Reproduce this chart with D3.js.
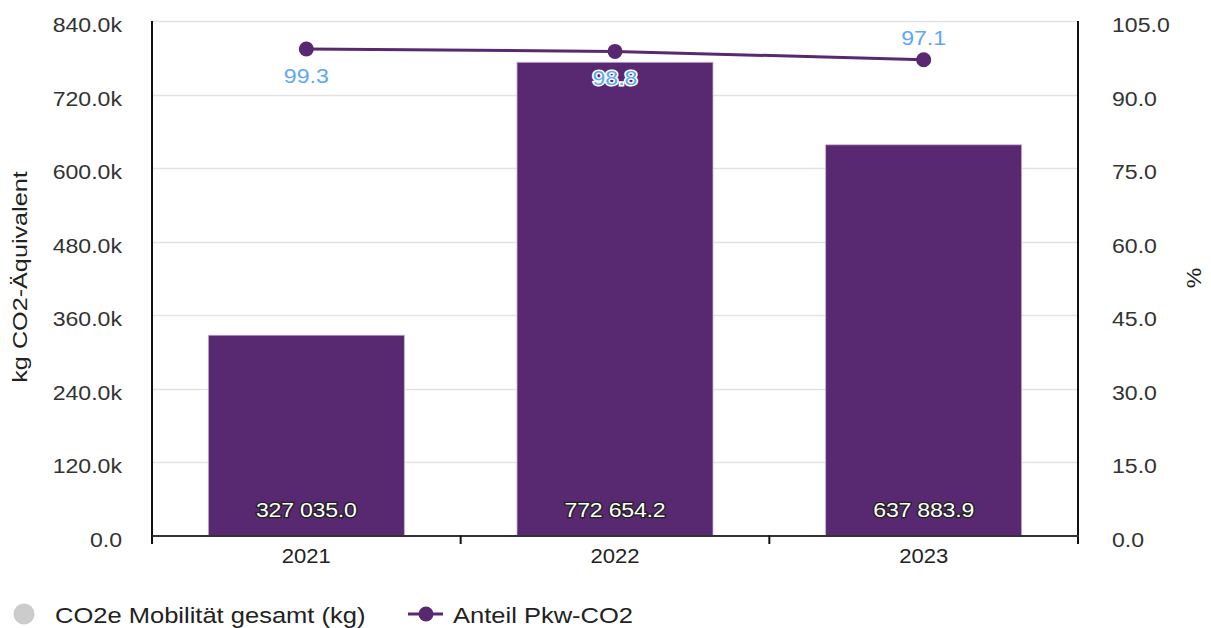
<!DOCTYPE html>
<html>
<head>
<meta charset="utf-8">
<script src="https://cdn.jsdelivr.net/npm/d3@7"></script>
<style>
  html, body { margin: 0; padding: 0; background: #fff; }
  svg { display: block; font-family: "Liberation Sans", Arial, sans-serif; }
</style>
</head>
<body>
<svg id="chart" width="1211" height="628"></svg>
<script>
// Jahre und Werte
const years = ["2021", "2022", "2023"];
const co2Total = [327035.0, 772654.2, 637883.9];   // kg CO2e Mobilität gesamt
const pkwShare = [99.3, 98.8, 97.1];               // Anteil Pkw-CO2 in %
const leftTicks = [0, 120000, 240000, 360000, 480000, 600000, 720000, 840000];
const rightTicks = [0, 15, 30, 45, 60, 75, 90, 105];
const seriesNames = ["CO2e Mobilität gesamt (kg)", "Anteil Pkw-CO2"];

const purple = "#582870";
const labelBlue = "#5aa8f8";
const FS = 21;      // Schriftgröße
const SX = 1.1;     // horizontale Laufweite der Schrift

const svg = d3.select("#chart");
const m = { left: 152, right: 1078, top: 21, bottom: 535.5 };

const x = d3.scaleBand().domain(years).range([m.left, m.right]).paddingInner(0.365).paddingOuter(0.1825);
const xBand = d3.scaleBand().domain(years).range([m.left, m.right]);
const yL = d3.scaleLinear().domain([0, 840000]).range([m.bottom, m.top]);
const yR = d3.scaleLinear().domain([0, 105]).range([m.bottom, m.top]);

const fmtK = v => v === 0 ? "0.0" : (v / 1000).toFixed(1) + "k";
const fmtBar = v => {
  const [i, d] = v.toFixed(1).split(".");
  return i.replace(/\B(?=(\d{3})+(?!\d))/g, " ") + "." + d;
};

// Text in Laufrichtung etwas breiter ziehen, Position bleibt erhalten
function widen(sel, sx = SX) {
  sel.each(function () {
    const t = d3.select(this);
    const x0 = +t.attr("x") || 0;
    t.attr("x", x0 / sx).attr("transform", `scale(${sx},1)`);
  });
}

// Gitterlinien
svg.append("g").selectAll("line").data(leftTicks.slice(1)).join("line")
  .attr("x1", m.left).attr("x2", m.right)
  .attr("y1", d => Math.round(yL(d)) + 0.5).attr("y2", d => Math.round(yL(d)) + 0.5)
  .attr("stroke", "#e3e3e3").attr("stroke-width", 1.5);

// Balken
svg.append("g").selectAll("rect").data(years).join("rect")
  .attr("x", d => x(d))
  .attr("width", x.bandwidth())
  .attr("y", (d, i) => yL(co2Total[i]))
  .attr("height", (d, i) => yL(0) - yL(co2Total[i]))
  .attr("fill", purple)
  .attr("stroke", "#c9b3d3").attr("stroke-width", 0.8);

// Balkenbeschriftung
svg.append("g").selectAll("text").data(years).join("text")
  .attr("x", d => x(d) + x.bandwidth() / 2)
  .attr("y", 517)
  .attr("text-anchor", "middle")
  .attr("font-size", FS)
  .attr("letter-spacing", -0.2)
  .attr("fill", "#fff")
  .attr("stroke", "#222").attr("stroke-width", 2.6).attr("paint-order", "stroke")
  .text((d, i) => fmtBar(co2Total[i]))
  .call(widen);

// Achsen
const axL = svg.append("g").attr("transform", `translate(${m.left},0)`)
  .call(d3.axisLeft(yL).tickValues(leftTicks).tickFormat(fmtK).tickSize(0).tickPadding(30));
axL.select(".domain").remove();
axL.selectAll("text").attr("font-size", FS).attr("fill", "#333").attr("dy", "0.52em")
  .attr("font-family", "Liberation Sans, Arial, sans-serif").call(widen);

const axR = svg.append("g").attr("transform", `translate(${m.right},0)`)
  .call(d3.axisRight(yR).tickValues(rightTicks).tickFormat(d => d.toFixed(1)).tickSize(0).tickPadding(34));
axR.select(".domain").remove();
axR.selectAll("text").attr("font-size", FS).attr("fill", "#333").attr("dy", "0.52em")
  .attr("font-family", "Liberation Sans, Arial, sans-serif").call(widen);

// Achsenlinien
svg.append("line").attr("x1", m.left).attr("x2", m.left).attr("y1", m.top).attr("y2", 544)
  .attr("stroke", "#111").attr("stroke-width", 2);
svg.append("line").attr("x1", m.right).attr("x2", m.right).attr("y1", m.top).attr("y2", 544)
  .attr("stroke", "#111").attr("stroke-width", 2);

const axB = svg.append("g").attr("transform", `translate(0,${m.bottom})`)
  .call(d3.axisBottom(xBand).tickSize(0).tickPadding(13));
axB.select(".domain").attr("stroke", "#333").attr("stroke-width", 2);
axB.selectAll("text").attr("font-size", FS).attr("fill", "#222")
  .attr("font-family", "Liberation Sans, Arial, sans-serif").call(widen, 1.05);
svg.append("g").selectAll("line").data(years.slice(1)).join("line")
  .attr("x1", d => xBand(d)).attr("x2", d => xBand(d))
  .attr("y1", m.bottom).attr("y2", 544)
  .attr("stroke", "#111").attr("stroke-width", 2);

// Achsentitel
svg.append("text").attr("transform", "translate(27,277) rotate(-90) scale(1.2,1)")
  .attr("text-anchor", "middle").attr("font-size", FS).attr("fill", "#222")
  .text("kg CO2-Äquivalent");
svg.append("text").attr("transform", "translate(1201,278) rotate(-90) scale(1.1,1)")
  .attr("text-anchor", "middle").attr("font-size", FS).attr("fill", "#222")
  .text("%");

// Linie Anteil Pkw-CO2
const cx = d => xBand(d) + xBand.bandwidth() / 2;
const line = d3.line().x(d => cx(d)).y((d, i) => yR(pkwShare[i]));
svg.append("path").datum(years).attr("d", line)
  .attr("fill", "none").attr("stroke", purple).attr("stroke-width", 3);
svg.append("g").selectAll("circle").data(years).join("circle")
  .attr("cx", cx).attr("cy", (d, i) => yR(pkwShare[i])).attr("r", 7.5)
  .attr("fill", purple);

// Werte der Linie (unter bzw. über dem Punkt)
const labelDy = [34, 34, -15];
svg.append("g").selectAll("text").data(years).join("text")
  .attr("x", cx)
  .attr("y", (d, i) => yR(pkwShare[i]) + labelDy[i])
  .attr("text-anchor", "middle")
  .attr("font-size", FS)
  .attr("fill", labelBlue)
  .attr("stroke", (d, i) => i === 1 ? "#fff" : "none")
  .attr("stroke-width", 3).attr("paint-order", "stroke")
  .text((d, i) => pkwShare[i].toFixed(1))
  .call(widen);

// Legende
const lg = svg.append("g");
lg.append("circle").attr("cx", 24).attr("cy", 614).attr("r", 10.5).attr("fill", "#cccccc");
lg.append("text").attr("x", 55).attr("y", 623).attr("font-size", 22).attr("fill", "#222")
  .text(seriesNames[0]).call(widen, 1.16);
lg.append("line").attr("x1", 408).attr("x2", 443).attr("y1", 614).attr("y2", 614)
  .attr("stroke", purple).attr("stroke-width", 3);
lg.append("circle").attr("cx", 426).attr("cy", 614).attr("r", 7.5).attr("fill", purple);
lg.append("text").attr("x", 453).attr("y", 623).attr("font-size", 22).attr("fill", "#222")
  .text(seriesNames[1]).call(widen, 1.16);
</script>
</body>
</html>
